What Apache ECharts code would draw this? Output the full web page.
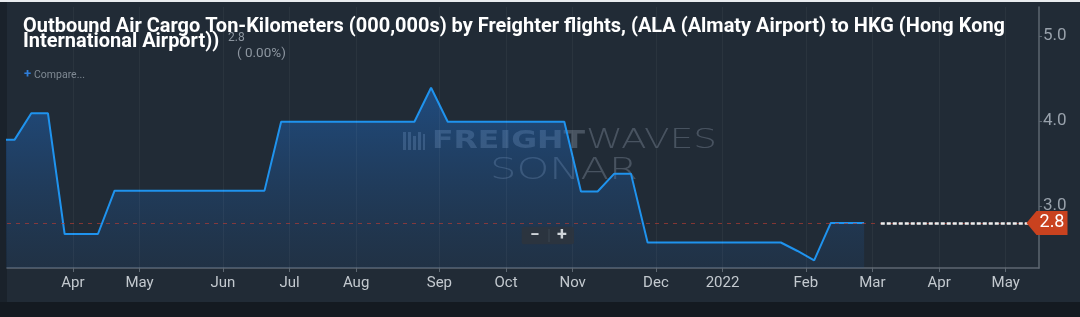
<!DOCTYPE html>
<html><head><meta charset="utf-8">
<script src="https://cdn.jsdelivr.net/npm/echarts@6/dist/echarts.min.js"></script>
<style>html,body{margin:0;padding:0;background:#1a222b;}#c{width:1080px;height:317px;}</style>
</head><body><div id="c"></div>
<script>
// ---- data ----
const weeks = [
  '2021-03-01','2021-03-08','2021-03-15','2021-03-22','2021-03-29','2021-04-05','2021-04-12','2021-04-19',
  '2021-04-26','2021-05-03','2021-05-10','2021-05-17','2021-05-24','2021-05-31','2021-06-07','2021-06-14',
  '2021-06-21','2021-06-28','2021-07-05','2021-07-12','2021-07-19','2021-07-26','2021-08-02','2021-08-09',
  '2021-08-16','2021-08-23','2021-08-30','2021-09-06','2021-09-13','2021-09-20','2021-09-27','2021-10-04',
  '2021-10-11','2021-10-18','2021-10-25','2021-11-01','2021-11-08','2021-11-15','2021-11-22','2021-11-29',
  '2021-12-06','2021-12-13','2021-12-20','2021-12-27','2022-01-03','2022-01-10','2022-01-17','2022-01-24',
  '2022-01-31','2022-02-07','2022-02-14','2022-02-21','2022-02-28'
];
const values = [
  3.78, 3.78, 4.09, 4.09, 2.67, 2.67, 2.67, 3.18,
  3.18, 3.18, 3.18, 3.18, 3.18, 3.18, 3.18, 3.18,
  3.18, 3.99, 3.99, 3.99, 3.99, 3.99, 3.99, 3.99,
  3.99, 3.99, 4.39, 3.99, 3.99, 3.99, 3.99, 3.99,
  3.99, 3.99, 3.99, 3.17, 3.17, 3.38, 3.38, 2.57,
  2.57, 2.57, 2.57, 2.57, 2.57, 2.57, 2.57, 2.57,
  2.47, 2.36, 2.8, 2.8, 2.8
];
const monthStarts = ['2021-04-01','2021-05-01','2021-06-01','2021-07-01','2021-08-01','2021-09-01','2021-10-01',
  '2021-11-01','2021-12-01','2022-01-01','2022-02-01','2022-03-01','2022-04-01','2022-05-01'];
const monthLabels = ['Apr','May','Jun','Jul','Aug','Sep','Oct','Nov','Dec','2022','Feb','Mar','Apr','May'];
const yTicks = [3, 4, 5];
const titleLines = [
  'Outbound Air Cargo Ton-Kilometers (000,000s) by Freighter flights, (ALA (Almaty Airport) to HKG (Hong Kong',
  'International Airport))'
];
const changeText = '( 0.00%)';
const compareText = 'Compare...';

// ---- derived ----
const DAY = 864e5;
const toUTC = s => { const [y,m,d] = s.split('-').map(Number); return Date.UTC(y, m-1, d); };
const w0 = toUTC(weeks[0]);
const tickPos = monthStarts.map(s => Math.ceil((toUTC(s) - w0) / (7*DAY)) - 0.5);
const seriesData = values.map((v, i) => [i, v]);
const last = values[values.length-1];
const XMIN = 0.54, XMAX = 62.5;
const labelFor = v => { const k = tickPos.findIndex(p => Math.abs(p - v) < 1e-6); return k >= 0 ? monthLabels[k] : ''; };

function measure(str, font){ const c = document.createElement('canvas').getContext('2d'); c.font = font; return c.measureText(str).width; }
const titleFont = 'bold 21px Roboto';
const titleScale = 982 / measure(titleLines[0], titleFont);
const wmBoldFont = '900 25px "DejaVu Sans"';
const wmThinFont = '200 26px "DejaVu Sans"';
const wmThin2Font = '200 30px "DejaVu Sans"';
const sF = 153 / measure('FREIGHT', wmBoldFont);
const sW = 131 / measure('WAVES', wmThinFont);
const sS = 148 / measure('SONAR', wmThin2Font);

const chart = echarts.init(document.getElementById('c'), null, {renderer:'canvas'});
const wmColor = 'rgba(190,205,225,0.25)';
const option = {
  backgroundColor: '#1a222b',
  animation: false,
  grid: {left: 7, right: 41, top: 7, bottom: 49, outerBoundsMode: 'none', containLabel: false},
  xAxis: {
    type: 'value', min: XMIN, max: XMAX,
    axisLine: {show: true, onZero: false, lineStyle: {color: '#5d6771', width: 1.5}},
    axisTick: {show: true, customValues: tickPos, length: 4, lineStyle: {color: '#5d6771'}},
    axisLabel: {customValues: tickPos, formatter: labelFor, color: '#c3c9cf', fontSize: 15, fontFamily: 'Roboto', margin: 8},
    splitLine: {show: false}
  },
  yAxis: {
    type: 'value', position: 'right', min: 2.27, max: 5.34,
    axisLine: {show: true, lineStyle: {color: '#5d6771', width: 1.5}},
    axisTick: {show: true, customValues: yTicks, length: 3, lineStyle: {color: '#5d6771'}},
    axisLabel: {customValues: yTicks, formatter: v => v.toFixed(1), color: '#98a1ab', fontSize: 17, fontFamily: 'Roboto', margin: 4},
    splitLine: {show: false}
  },
  series: [{
    type: 'line', data: seriesData, symbol: 'none', z: 3,
    lineStyle: {color: '#1f93ee', width: 2},
    areaStyle: {color: new echarts.graphic.LinearGradient(0,0,0,1,[
      {offset:0, color:'rgba(30,110,205,0.68)'},{offset:1, color:'rgba(30,90,160,0.2)'}])},
    markLine: {
      symbol: 'none', silent: true, label: {show: false}, animation: false,
      data: [
        ...tickPos.map(p => ({xAxis: p, lineStyle: {color: 'rgba(255,255,255,0.045)', type: 'solid', width: 1}})),
        {yAxis: last, lineStyle: {color: 'rgba(185,60,50,0.65)', type: [4,5], width: 1}},
        [{coord: [values.length, last], lineStyle: {color: '#eeeeee', type: [4,2], width: 2.5}}, {coord: [XMAX, last]}]
      ]
    },
    markPoint: {
      silent: true, animation: false,
      symbol: 'path://M0,12L10,0L41,0L41,24L10,24Z', symbolSize: [41, 24], symbolOffset: [8, 0],
      itemStyle: {color: '#c9421f'},
      label: {show: true, position: 'inside', color: '#ffffff', fontSize: 18, fontFamily: 'Roboto', offset: [5, 0],
        formatter: p => Number(p.value).toFixed(1)},
      data: [{coord: [XMAX, last], value: last}]
    }
  }],
  graphic: [
    {type:'rect', z:-10, silent:true, shape:{x:7, y:2, width:1073, height:300}, style:{fill:'#212b36'}},
    {type:'rect', z:-10, silent:true, shape:{x:0, y:302, width:1080, height:15}, style:{fill:'#141a21'}},
    {type:'rect', z:-10, silent:true, shape:{x:0, y:0, width:1080, height:2}, style:{fill:'#e9ecef'}},
    // watermark
    {type:'group', z:1, silent:true, children:[
      {type:'rect', shape:{x:403, y:132, width:3, height:18}, style:{fill:wmColor}},
      {type:'rect', shape:{x:408, y:132, width:3, height:18}, style:{fill:wmColor}},
      {type:'rect', shape:{x:413, y:136, width:3, height:14}, style:{fill:wmColor}},
      {type:'rect', shape:{x:418, y:132, width:3, height:18}, style:{fill:wmColor}},
      {type:'rect', shape:{x:423, y:134, width:2, height:16}, style:{fill:wmColor}}
    ]},
    {type:'text', z:1, silent:true, x:432, y:141, scaleX:sF, style:{text:'FREIGHT', font:wmBoldFont, fill:wmColor, verticalAlign:'middle'}},
    {type:'text', z:1, silent:true, x:586, y:141, scaleX:sW, style:{text:'WAVES', font:wmThinFont, fill:wmColor, verticalAlign:'middle'}},
    {type:'text', z:1, silent:true, x:490, y:171, scaleX:sS, style:{text:'SONAR', font:wmThin2Font, fill:wmColor, verticalAlign:'middle'}},
    // zoom box
    {type:'rect', z:6, silent:true, shape:{x:521.7, y:226.7, width:52.3, height:17.6, r:2}, style:{fill:'rgba(44,52,62,0.9)'}},
    {type:'line', z:7, silent:true, shape:{x1:549, y1:229, x2:549, y2:242}, style:{stroke:'#3d4752', lineWidth:1}},
    {type:'text', z:7, silent:true, x:535, y:235.5, style:{text:'\u2212', font:'bold 17px Roboto', fill:'#cfd4d9', align:'center', verticalAlign:'middle'}},
    {type:'text', z:7, silent:true, x:562, y:235, style:{text:'+', font:'bold 18px Roboto', fill:'#cfd4d9', align:'center', verticalAlign:'middle'}},
    // title
    {type:'text', z:10, silent:true, x:23, y:26.5, scaleX:titleScale, style:{text:titleLines[0], font:titleFont, fill:'#ffffff', verticalAlign:'middle'}},
    {type:'text', z:10, silent:true, x:23, y:41.5, scaleX:titleScale, style:{text:titleLines[1], font:titleFont, fill:'#ffffff', verticalAlign:'middle'}},
    {type:'text', z:10, silent:true, x:228, y:38, style:{text:last.toFixed(1), font:'12px Roboto', fill:'#8d96a0', verticalAlign:'middle'}},
    {type:'text', z:10, silent:true, x:237, y:53.5, style:{text:changeText, font:'13.5px Roboto', fill:'#8d96a0', verticalAlign:'middle'}},
    {type:'text', z:10, silent:true, x:24, y:74.5, style:{text:'+', font:'bold 13px Roboto', fill:'#2f7fdc', verticalAlign:'middle'}},
    {type:'text', z:10, silent:true, x:34, y:75.5, style:{text:compareText, font:'10.5px Roboto', fill:'#7f8993', verticalAlign:'middle'}}
  ]
};
chart.setOption(option);
</script></body></html>
